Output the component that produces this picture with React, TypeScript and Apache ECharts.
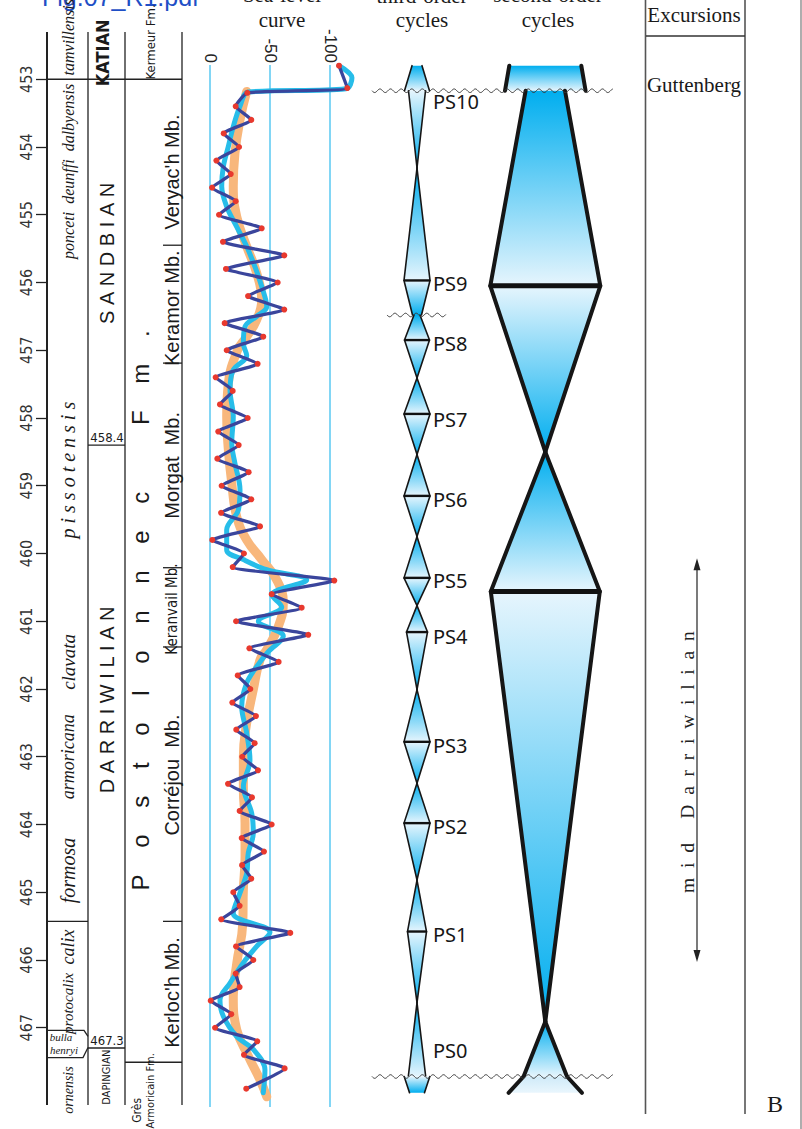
import React, { useEffect, useRef } from "react";
import * as echarts from "echarts";

// ---------------- DATA ----------------
const ageTicks = [453, 454, 455, 456, 457, 458, 459, 460, 461, 462, 463, 464, 465, 466, 467];
const seaLevelGridValues = [0, -50, -100];

// Biozones (chitinozoans)
const zoneNames = ["tamvillensis", "ponceti  deunffi  dalbyensis", "pissotensis", "clavata", "armoricana", "formosa", "calix", "protocalix", "ornensis"];
const zoneMidAges = [452.38, 454.36, 458.77, 461.6, 463.0, 464.68, 465.81, 466.64, 467.92];
const zoneBoundaryAges = [453.0, 465.43];
const bullaZoneLines = ["bulla", "henryi"];
const bullaTopAge = 467.04;
const bullaBaseAge = 467.44;

// Stages
const stageNames = ["KATIAN", "SANDBIAN", "DARRIWILIAN", "DAPINGIAN"];
const stageMidAges = [452.61, 455.57, 462.16, 467.73];
const stageBoundaryAges = [453.0, 458.4, 467.3];
const stageBoundaryLabels = ["", "458.4", "467.3"];

// Formations & members
const formationNames = ["Kermeur Fm.", "Postolonnec Fm."];
const formationMidAges = [452.45, 460.84];
const formationBoundaryAges = [453.0, 467.51];
const baseFormationLines = ["Grès", "Armoricain Fm."];
const baseFormationMidAges = [468.22, 467.93];
const memberNames = ["Veryac'h Mb.", "Keramor Mb.", "Morgat  Mb.", "Keranvail Mb.", "Corréjou  Mb.", "Kerloc'h Mb."];
const memberMidAges = [454.37, 456.38, 458.7, 460.82, 463.27, 466.48];
const memberBoundaryAges = [455.45, 457.19, 460.21, 461.38, 465.43];

// Sea-level curve (m), raw zigzag with dots
const zigzagAges = [452.8, 453.13, 453.2, 453.4, 453.6, 453.8, 454.0, 454.2, 454.4, 454.6, 454.8, 455.0, 455.2, 455.4, 455.6, 455.8, 456.0, 456.2, 456.4, 456.6, 456.8, 457.0, 457.2, 457.4, 457.6, 457.8, 458.0, 458.2, 458.4, 458.6, 458.8, 459.0, 459.2, 459.4, 459.6, 459.8, 460.0, 460.2, 460.4, 460.6, 460.8, 461.0, 461.2, 461.4, 461.6, 461.8, 462.0, 462.2, 462.4, 462.6, 462.8, 463.0, 463.2, 463.4, 463.6, 463.8, 464.0, 464.2, 464.4, 464.6, 464.8, 465.0, 465.2, 465.4, 465.6, 465.8, 466.0, 466.2, 466.4, 466.6, 466.8, 467.0, 467.2, 467.4, 467.6, 467.9];
const zigzagLevels = [-107.5, -114.4, -31.1, -21.4, -34.4, -11.4, -24.2, -5.3, -17.3, -1.7, -21.4, -7.5, -43.1, -10.8, -61.9, -13.3, -56.4, -31.7, -61.9, -12.2, -44.4, -13.9, -39.7, -4.7, -18.9, -8.3, -31.4, -6.9, -23.9, -6.1, -32.2, -9.7, -34.4, -9.2, -41.7, -1.9, -28.3, -18.9, -103.6, -51.4, -76.4, -21.7, -81.9, -32.8, -57.2, -23.1, -33.6, -18.6, -38.3, -21.9, -37.2, -26.9, -40, -15, -35, -24.7, -51.4, -26.4, -45, -26.7, -34.4, -19.4, -24.7, -9.4, -66.9, -21.7, -36.1, -21.4, -24.7, -0.6, -17.7, -4.2, -39.4, -28.3, -62.2, -30.2];

// Smoothed curve (cyan)
const cyanAges = [452.8, 452.98, 453.14, 453.19, 453.4, 453.7, 453.99, 454.29, 454.58, 454.88, 455.18, 455.47, 455.77, 456.06, 456.36, 456.5, 456.65, 456.9, 457.08, 457.29, 457.59, 457.98, 458.37, 458.67, 459.06, 459.36, 459.65, 459.95, 460.09, 460.24, 460.39, 460.61, 460.79, 461.0, 461.22, 461.45, 461.67, 461.91, 462.26, 462.65, 463.05, 463.44, 463.83, 464.13, 464.42, 464.72, 465.01, 465.31, 465.59, 465.8, 466.04, 466.34, 466.59, 466.83, 467.13, 467.32, 467.62, 467.96];
const cyanLevels = [-107.5, -118.3, -113.3, -31.9, -25, -19.4, -15.3, -11.1, -9.75, -13.9, -22.3, -30.6, -37.5, -43.1, -47.3, -38.9, -29.2, -27.8, -30.6, -19.4, -16.7, -19.4, -18.1, -20.8, -25, -23.6, -13.9, -13.9, -27.8, -47.3, -80.6, -51.4, -59.8, -40.3, -61.1, -48.6, -38.9, -30.6, -26.4, -30.6, -33.3, -27.8, -34.7, -36.1, -31.9, -30.6, -25, -19.4, -50, -38.9, -27.8, -16.7, -8.3, -11.1, -22.3, -36.1, -45.8, -44.4];

// Long-term trend (orange)
const orangeAges = [453.18, 453.6, 454.09, 454.58, 455.03, 455.47, 455.86, 456.26, 456.55, 456.8, 457.0, 457.49, 457.98, 458.47, 458.96, 459.46, 459.8, 460.09, 460.39, 460.73, 461.08, 461.42, 461.57, 462.01, 462.5, 463.0, 463.49, 463.98, 464.47, 464.96, 465.46, 466.05, 466.54, 467.03, 467.42, 467.77, 468.02];
const orangeLevels = [-30.6, -25, -20.8, -19.4, -22.3, -30.6, -38.9, -43.1, -38.9, -30.6, -23, -15.3, -13.9, -15.3, -18.1, -22.3, -30.6, -43.1, -55.6, -61.1, -56.9, -47.3, -41.7, -36.1, -30.6, -27.8, -27.8, -29.2, -29.2, -27.8, -27.3, -22.3, -19.4, -22.3, -31.9, -41.7, -47.3];

// Third-order cycles: segments (top age, top half-width, bottom age, bottom half-width)
const thirdTopAges = [452.8, 453.17, 454.31, 455.97, 456.48, 456.85, 457.41, 457.94, 458.54, 459.15, 459.75, 460.36, 460.77, 461.16, 462.01, 462.78, 463.39, 463.98, 464.82, 465.58, 466.63, 467.72];
const thirdTopHW = [5, 8.5, 0, 13, 3, 12.5, 0, 13, 0, 13, 0, 13, 0, 10.5, 0, 13, 0, 13, 0, 9.5, 0, 12.8];
const thirdBottomAges = [453.17, 454.31, 455.97, 456.48, 456.85, 457.41, 457.94, 458.54, 459.15, 459.75, 460.36, 460.77, 461.16, 462.01, 462.78, 463.39, 463.98, 464.82, 465.58, 466.63, 467.72, 467.96];
const thirdBottomHW = [12.5, 0, 13, 4.5, 12.5, 0, 13, 0, 13, 0, 13, 0, 10.5, 0, 13, 0, 13, 0, 9.5, 0, 8.7, 7.5];
const thirdBoundaryAges = [455.97, 456.85, 457.94, 459.15, 460.36, 461.16, 462.78, 463.98, 465.58];
const thirdBoundaryHW = [13, 12.5, 13, 13, 13, 10.5, 13, 13, 9.5];
const psNames = ["PS10", "PS9", "PS8", "PS7", "PS6", "PS5", "PS4", "PS3", "PS2", "PS1", "PS0"];
const psLabelAges = [453.33, 456.01, 456.9, 458.02, 459.2, 460.4, 461.23, 462.83, 464.03, 465.63, 467.33];

// Second-order cycles
const secondTopAges = [452.8, 453.17, 456.05, 458.5, 460.56, 466.91, 467.72];
const secondTopHW = [36, 19.7, 55, 0, 54.5, 0, 21.7];
const secondBottomAges = [453.17, 456.05, 458.5, 460.56, 466.91, 467.72, 467.96];
const secondBottomHW = [40.3, 55, 0, 54.5, 0, 21.7, 36.7];
const secondBoundaryAges = [456.05, 460.56];
const secondBoundaryHW = [55, 54.5];

// Unconformities
const unconformityAges = [453.17, 456.48, 467.72];
const unconformityCutsSecondOrder = [true, false, true];

// Excursions
const excursionNames = ["Guttenberg"];
const excursionAges = [453.09];
const midDarriwilianRange = [460.07, 466.03];

// ---------------- STYLE / LAYOUT ----------------
const SANS = "'Liberation Sans', Arial, Helvetica, sans-serif";
const NARROW = "'Liberation Sans Narrow', 'DejaVu Sans Condensed', 'Liberation Sans', sans-serif";
const SERIF = "'Liberation Serif', 'Times New Roman', serif";
const PSFONT = "'Noto Sans', 'Open Sans', sans-serif";
const NB = "\u00A0";
const spaced = (w: string, n: number) => w.split("").join(NB.repeat(n));

const GRID_TOP = 65;
const GRID_H = 1042;
const AGE_MIN = 452.79;
const AGE_MAX = 468.17;
const DARK = "#00aeef";
const LIGHT = "#e6f5fd";

const zoneFont: Record<string, number> = {
  tamvillensis: 16, "ponceti  deunffi  dalbyensis": 16, pissotensis: 20, clavata: 19,
  armoricana: 18, formosa: 20, calix: 18, protocalix: 15, ornensis: 14,
};
const zoneText = (n: string) =>
  n === "pissotensis" ? spaced(n, 1) : n.replace(/ /g, NB);

const stageText = (n: string) =>
  n === "SANDBIAN" || n === "DARRIWILIAN" ? spaced(n, 1) : n;
const stageStyle = (n: string) =>
  n === "KATIAN" ? { fontSize: 18, fontFamily: NARROW, fontWeight: "bold" }
    : n === "DAPINGIAN" ? { fontSize: 11, fontFamily: NARROW }
      : { fontSize: 20, fontFamily: SANS };
const stageX = (n: string) => (n === "KATIAN" ? 55 : n === "DAPINGIAN" ? 59 : 60);

function textSeries(gridIndex: number, ages: number[], texts: string[], xOff: (i: number) => number,
  style: (i: number) => any, rotate = true, dy = 0) {
  return {
    type: "custom", xAxisIndex: gridIndex, yAxisIndex: gridIndex, silent: true, z: 20,
    data: ages.map((a) => [0, a]),
    renderItem: (params: any, api: any) => {
      const i = params.dataIndex;
      const y = api.coord([0, api.value(1)])[1] + dy;
      const x = params.coordSys.x + xOff(i);
      return {
        type: "text", x, y, rotation: rotate ? Math.PI / 2 : 0,
        style: { text: texts[i], align: "center", verticalAlign: "middle", fill: "#1a1a1a", ...style(i) },
      };
    },
  };
}

function hLineSeries(gridIndex: number, ages: number[], x0: number, x1: number, lw: number, color = "#222") {
  return {
    type: "custom", xAxisIndex: gridIndex, yAxisIndex: gridIndex, silent: true, z: 15,
    data: ages.map((a) => [0, a]),
    renderItem: (params: any, api: any) => {
      const y = api.coord([0, api.value(1)])[1];
      const cx = params.coordSys.x;
      return { type: "line", shape: { x1: cx + x0, y1: y, x2: cx + x1, y2: y }, style: { stroke: color, lineWidth: lw } };
    },
  };
}

function segmentSeries(gridIndex: number, tops: number[], topHW: number[], bottoms: number[], bottomHW: number[],
  sideWidth: number, paleLast: boolean) {
  return {
    type: "custom", xAxisIndex: gridIndex, yAxisIndex: gridIndex, silent: true, z: 5,
    data: tops.map((t, i) => [t, topHW[i], bottoms[i], bottomHW[i]]),
    renderItem: (params: any, api: any) => {
      const i = params.dataIndex;
      const aT = api.value(0), wT = api.value(1), aB = api.value(2), wB = api.value(3);
      const tl = api.coord([-wT, aT]), tr = api.coord([wT, aT]);
      const bl = api.coord([-wB, aB]), br = api.coord([wB, aB]);
      const darkTop = wT < wB;
      let c0 = darkTop ? DARK : LIGHT;
      let c1 = darkTop ? LIGHT : DARK;
      if (paleLast && i === tops.length - 1) { c0 = "#cfeaf8"; c1 = "#e9f6fd"; }
      const fill = new echarts.graphic.LinearGradient(0, 0, 0, 1, [
        { offset: 0, color: c0 }, { offset: 1, color: c1 },
      ]);
      return {
        type: "group",
        children: [
          { type: "polygon", shape: { points: [tl, tr, br, bl] }, style: { fill, stroke: "none" } },
          { type: "line", shape: { x1: tl[0], y1: tl[1], x2: bl[0], y2: bl[1] }, style: { stroke: "#161616", lineWidth: sideWidth, lineCap: "round" } },
          { type: "line", shape: { x1: tr[0], y1: tr[1], x2: br[0], y2: br[1] }, style: { stroke: "#161616", lineWidth: sideWidth, lineCap: "round" } },
        ],
      };
    },
  };
}

function boundarySeries(gridIndex: number, ages: number[], hws: number[], lw: number) {
  return {
    type: "custom", xAxisIndex: gridIndex, yAxisIndex: gridIndex, silent: true, z: 8,
    data: ages.map((a, i) => [hws[i], a]),
    renderItem: (params: any, api: any) => {
      const w = api.value(0), a = api.value(1);
      const p0 = api.coord([-w, a]), p1 = api.coord([w, a]);
      return { type: "line", shape: { x1: p0[0], y1: p0[1], x2: p1[0], y2: p1[1] }, style: { stroke: "#111", lineWidth: lw } };
    },
  };
}

function buildOption() {
  const grids = [
    { left: 47, top: GRID_TOP, width: 135, height: GRID_H },
    { left: 210, top: GRID_TOP, width: 150, height: GRID_H },
    { left: 390, top: GRID_TOP, width: 54, height: GRID_H },
    { left: 480.3, top: GRID_TOP, width: 130, height: GRID_H },
    { left: 645, top: GRID_TOP, width: 100, height: GRID_H },
  ].map((g) => ({ ...g, containLabel: false, outerBoundsMode: "none", show: false }));

  const xRanges = [[0, 135], [-125, 0], [-27, 27], [-65, 65], [0, 100]];
  const xAxis = xRanges.map((r, i) => {
    if (i === 1) {
      return {
        type: "value", gridIndex: 1, min: -125, max: 0, interval: 25, inverse: true, position: "top",
        axisLine: { show: false }, axisTick: { show: false },
        axisLabel: {
          rotate: 90, margin: 2, fontFamily: SANS, fontSize: 17, color: "#222",
          formatter: (v: number) => (v % 50 === 0 ? String(v) : ""),
        },
        splitLine: { show: false },
      };
    }
    return { type: "value", gridIndex: i, min: r[0], max: r[1], show: false, splitLine: { show: false } };
  });

  const yAxis = grids.map((_, i) => {
    if (i === 0) {
      return {
        type: "value", gridIndex: 0, inverse: true, min: AGE_MIN, max: AGE_MAX,
        axisLine: { show: false },
        axisTick: { show: true, customValues: ageTicks, length: 11, lineStyle: { color: "#222", width: 1.3 } },
        axisLabel: {
          customValues: ageTicks, rotate: 90, margin: 13, fontFamily: NARROW, fontSize: 16, color: "#333",
          formatter: (v: number) => (Number.isInteger(v) ? String(v) : ""),
        },
        splitLine: { show: false },
      };
    }
    return { type: "value", gridIndex: i, inverse: true, min: AGE_MIN, max: AGE_MAX, show: false, splitLine: { show: false } };
  });

  const series: any[] = [];

  // Sea-level reference lines (0, -50, -100 m)
  series.push({
    type: "custom", xAxisIndex: 1, yAxisIndex: 1, silent: true, z: 1,
    data: seaLevelGridValues.map((v) => [v, AGE_MIN]),
    renderItem: (params: any, api: any) => {
      const x = api.coord([api.value(0), AGE_MIN])[0];
      const cs = params.coordSys;
      return { type: "line", shape: { x1: x, y1: cs.y, x2: x, y2: cs.y + cs.height }, style: { stroke: "#3fc0f0", lineWidth: 1.3 } };
    },
  });

  // Sea-level curves
  series.push({
    type: "line", xAxisIndex: 1, yAxisIndex: 1, clip: false, silent: true, smooth: 0.45, symbol: "none", z: 2,
    data: orangeAges.map((a, i) => [orangeLevels[i], a]),
    lineStyle: { color: "#f8b77c", width: 9, cap: "round" },
  });
  series.push({
    type: "line", xAxisIndex: 1, yAxisIndex: 1, clip: false, silent: true, smooth: 0.35, symbol: "none", z: 3,
    data: cyanAges.map((a, i) => [cyanLevels[i], a]),
    lineStyle: { color: "#27bde9", width: 5, cap: "round", join: "round" },
  });
  series.push({
    type: "line", xAxisIndex: 1, yAxisIndex: 1, clip: false, silent: true, smooth: 0.15, z: 4,
    symbol: "circle", symbolSize: 6, showSymbol: true, showAllSymbol: true,
    itemStyle: { color: "#e8392e", borderWidth: 0 },
    data: zigzagAges.map((a, i) => [zigzagLevels[i], a]),
    lineStyle: { color: "#3a459c", width: 3.3, cap: "round", join: "round" },
  });

  // Strat column: boundaries
  series.push(hLineSeries(0, zoneBoundaryAges, 0, 41, 1.4));
  series.push(hLineSeries(0, stageBoundaryAges, 41, 78, 1.4));
  series.push(hLineSeries(0, formationBoundaryAges, 78, 135, 1.4));
  series.push(hLineSeries(0, memberBoundaryAges, 116, 135, 1.3));
  // bulla henryi box
  series.push({
    type: "custom", xAxisIndex: 0, yAxisIndex: 0, silent: true, z: 15,
    data: [[0, bullaTopAge, bullaBaseAge]],
    renderItem: (params: any, api: any) => {
      const cx = params.coordSys.x;
      const yT = api.coord([0, api.value(1)])[1];
      const yB = api.coord([0, api.value(2)])[1];
      return {
        type: "group",
        children: [
          { type: "polyline", shape: { points: [[cx, yT], [cx + 37, yT], [cx + 41, yT + 6]] }, style: { stroke: "#222", lineWidth: 1.3, fill: "none" } },
          { type: "polyline", shape: { points: [[cx, yB], [cx + 36, yB], [cx + 41, yB - 10]] }, style: { stroke: "#222", lineWidth: 1.3, fill: "none" } },
          { type: "text", x: cx + 14, y: yT + 6.5, style: { text: bullaZoneLines[0], fontFamily: SERIF, fontStyle: "italic", fontSize: 11, fill: "#222", align: "center", verticalAlign: "middle" } },
          { type: "text", x: cx + 17, y: yT + 19.5, style: { text: bullaZoneLines[1], fontFamily: SERIF, fontStyle: "italic", fontSize: 11, fill: "#222", align: "center", verticalAlign: "middle" } },
        ],
      };
    },
  });

  // Strat column: labels
  series.push(textSeries(0, zoneMidAges, zoneNames.map(zoneText), () => 21,
    (i) => ({ fontFamily: SERIF, fontStyle: "italic", fontSize: zoneFont[zoneNames[i]] })));
  series.push(textSeries(0, stageMidAges, stageNames.map(stageText), (i) => stageX(stageNames[i]),
    (i) => stageStyle(stageNames[i])));
  series.push(textSeries(0, stageBoundaryAges, stageBoundaryLabels, () => 60,
    () => ({ fontFamily: NARROW, fontSize: 13 }), false, -8));
  series.push(textSeries(0, formationMidAges,
    [formationNames[0], spaced("Postolonnec", 4) + NB.repeat(10) + spaced("Fm.", 4)],
    (i) => (i === 0 ? 103 : 93),
    (i) => (i === 0 ? { fontFamily: NARROW, fontSize: 13 } : { fontFamily: SANS, fontSize: 24 })));
  series.push(textSeries(0, baseFormationMidAges, baseFormationLines, (i) => (i === 0 ? 90 : 103),
    (i) => ({ fontFamily: NARROW, fontSize: i === 0 ? 12 : 11 })));
  series.push(textSeries(0, memberMidAges, memberNames.map((m) => m.replace(/ /g, NB)), () => 125,
    (i) => (memberNames[i].startsWith("Keranvail") ? { fontFamily: NARROW, fontSize: 15 } : { fontFamily: SANS, fontSize: 20 })));

  // Second-order cycles
  series.push(segmentSeries(3, secondTopAges, secondTopHW, secondBottomAges, secondBottomHW, 4, true));
  series.push(boundarySeries(3, secondBoundaryAges, secondBoundaryHW, 5));
  // Third-order cycles
  series.push(segmentSeries(2, thirdTopAges, thirdTopHW, thirdBottomAges, thirdBottomHW, 1.6, false));
  series.push(boundarySeries(2, thirdBoundaryAges, thirdBoundaryHW, 2.4));
  series.push(textSeries(2, psLabelAges, psNames, () => 43,
    () => ({ fontFamily: PSFONT, fontSize: 20, align: "left", fill: "#161616" }), false, 0));

  // Unconformities (wavy lines)
  series.push({
    type: "custom", xAxisIndex: 2, yAxisIndex: 2, silent: true, z: 12,
    data: unconformityAges.map((a) => [0, a]),
    renderItem: (params: any, api: any) => {
      const i = params.dataIndex;
      const wide = unconformityCutsSecondOrder[i];
      const y = api.coord([0, api.value(1)])[1];
      const xa = api.coord([wide ? -45 : -30, api.value(1)])[0];
      const xb = api.coord([wide ? 196 : 29, api.value(1)])[0];
      const pts: number[][] = [];
      for (let x = xa; x <= xb; x += 0.7) pts.push([x, y + 1.8 * Math.sin(((x - xa) / 10.6) * Math.PI * 2)]);
      return { type: "polyline", shape: { points: pts }, style: { stroke: "#3a3a3a", lineWidth: 1, fill: "none" } };
    },
  });

  // Excursions column
  series.push(textSeries(4, excursionAges, excursionNames, () => 49,
    () => ({ fontFamily: SERIF, fontSize: 21 }), false, 0));
  series.push({
    type: "custom", xAxisIndex: 4, yAxisIndex: 4, silent: true, z: 12,
    data: [[0, midDarriwilianRange[0], midDarriwilianRange[1]]],
    renderItem: (params: any, api: any) => {
      const cx = params.coordSys.x;
      const yT = api.coord([0, api.value(1)])[1];
      const yB = api.coord([0, api.value(2)])[1];
      const ax = cx + 52;
      return {
        type: "group",
        children: [
          { type: "line", shape: { x1: ax, y1: yT + 8, x2: ax, y2: yB - 8 }, style: { stroke: "#222", lineWidth: 1.2 } },
          { type: "polygon", shape: { points: [[ax, yT], [ax - 3.5, yT + 12], [ax + 3.5, yT + 12]] }, style: { fill: "#222" } },
          { type: "polygon", shape: { points: [[ax, yB], [ax - 3.5, yB - 12], [ax + 3.5, yB - 12]] }, style: { fill: "#222" } },
          {
            type: "text", x: cx + 42, y: (yT + yB) / 2 + 2, rotation: Math.PI / 2,
            style: { text: spaced("mid", 2) + NB.repeat(5) + spaced("Darriwilian", 2), fontFamily: SERIF, fontSize: 19.5, fill: "#222", align: "center", verticalAlign: "middle" },
          },
        ],
      };
    },
  });

  const line = (x1: number, y1: number, x2: number, y2: number, lw: number, stroke = "#222") =>
    ({ type: "line", silent: true, shape: { x1, y1, x2, y2 }, style: { stroke, lineWidth: lw } });
  const txt = (text: string, x: number, y: number, fontSize: number, fontFamily: string, fill = "#1a1a1a", align = "center") =>
    ({ type: "text", silent: true, x, y, style: { text, fontSize, fontFamily, fill, align, verticalAlign: "middle" } });

  const graphic = [
    line(47, 32, 47, 1105, 2),
    line(88, 32, 88, 1105, 1.3),
    line(125, 32, 125, 1105, 1.3),
    line(182, 32, 182, 1105, 1.3),
    line(645.5, 0, 645.5, 1114, 1.6, "#555"),
    line(745, 0, 745, 1114, 1.6, "#555"),
    line(646, 36, 745, 36, 1.4, "#333"),
    line(801, 0, 801, 1129, 1.2, "#777"),
    txt("Fig.07_R1.pdf", 42, -3, 25, SANS, "#1f4fc6", "left"),
    txt("Sea-level", 282, -5, 21, SERIF),
    txt("curve", 282, 20, 21, SERIF),
    txt("third-order", 422, -4, 21, SERIF),
    txt("cycles", 422, 20, 21, SERIF),
    txt("second-order", 548, -5, 21, SERIF),
    txt("cycles", 548, 20, 21, SERIF),
    txt("Excursions", 694, 15, 21, SERIF),
    txt("B", 775, 1104, 24, SERIF),
  ];

  return {
    animation: false,
    backgroundColor: "#ffffff",
    grid: grids,
    xAxis,
    yAxis,
    series,
    graphic,
  };
}

export default function App() {
  const ref = useRef<HTMLDivElement>(null);
  useEffect(() => {
    if (!ref.current) return;
    const chart = echarts.init(ref.current, null, { renderer: "svg" });
    chart.setOption(buildOption() as any);
    return () => chart.dispose();
  }, []);
  return (
    <div
      ref={ref}
      style={{ position: "absolute", left: 0, top: 0, width: 802, height: 1129, background: "#fff" }}
    />
  );
}
